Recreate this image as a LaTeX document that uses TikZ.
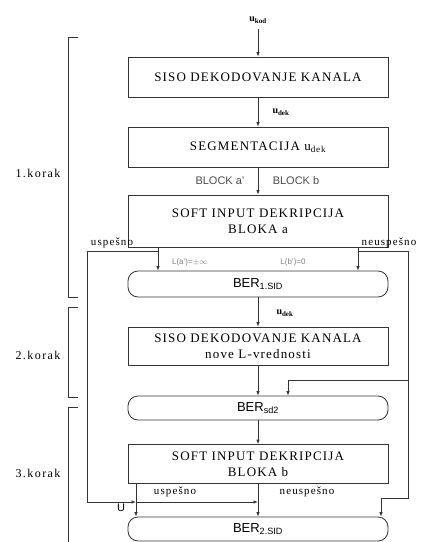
\documentclass[tikz,border=0pt]{standalone}
\usepackage{fontspec}
\setmainfont{Liberation Serif}
\setsansfont{Liberation Sans}
\usetikzlibrary{arrows.meta}
\begin{document}
\begin{tikzpicture}[x=1pt, y=-1pt, >={Latex[length=4.5pt,width=3.5pt]},
  every node/.style={inner sep=0pt},
  procbox/.style={draw=black!80, line width=0.8pt, minimum width=260pt, align=center,
    font=\fontsize{13}{16}\selectfont\addfontfeature{LetterSpace=9}},
  berbox/.style={draw=black!80, line width=0.8pt, rounded corners=10pt, minimum width=260pt,
    font=\sffamily\fontsize{13}{15}\selectfont},
  lbl/.style={font=\fontsize{11}{13}\selectfont\addfontfeature{LetterSpace=10}},
  korak/.style={font=\fontsize{12}{14}\selectfont\addfontfeature{LetterSpace=12}},
  sig/.style={font=\bfseries\fontsize{10}{12}\selectfont},
  blk/.style={font=\sffamily\fontsize{11}{13}\selectfont, text=black!70},
  lval/.style={font=\sffamily\fontsize{8}{10}\selectfont, text=black!50},
  line/.style={draw=black!80, line width=0.8pt}]
\useasboundingbox (0,0) rectangle (427,542);
% step 1
\node[sig] (ukod) at (258,20) {u\textsubscript{kod}};
\node[procbox, minimum height=40pt] (dek1) at (258,77) {SISO DEKODOVANJE KANALA};
\node[sig] (udek1) at (281,112) {u\textsubscript{dek}};
\node[procbox, minimum height=40pt] (seg) at (258,147) {SEGMENTACIJA u\textsubscript{dek}};
\node[blk] (blka) at (220,181) {BLOCK a'};
\node[blk] (blkb) at (296,181) {BLOCK b};
\node[procbox, minimum height=52pt] (sid1) at (258,221) {SOFT INPUT DEKRIPCIJA\\BLOKA a};
\node[lbl] (usp1) at (112,243) {uspešno};
\node[lbl] (neu1) at (389,243) {neuspešno};
\node[lval] (la) at (190,262) {L(a')=$\pm\infty$};
\node[lval] (lb) at (293,262) {L(b')=0};
\node[berbox, minimum height=26pt] (ber1) at (258,284) {BER\textsubscript{1.SID}};
% step 2
\node[sig] (udek2) at (285,313) {u\textsubscript{dek}};
\node[procbox, minimum height=38pt] (dek2) at (258,346) {SISO DEKODOVANJE KANALA\\nove L-vrednosti};
\node[berbox, minimum height=24pt] (ber2) at (258,408) {BER\textsubscript{sd2}};
% step 3
\node[procbox, minimum height=39pt] (sid2) at (258,464) {SOFT INPUT DEKRIPCIJA\\BLOKA b};
\node[lbl] (usp2) at (175,492) {uspešno};
\node[lbl] (neu2) at (307,492) {neuspešno};
\node[blk, text=black] (uu) at (121,508) {U};
\node[berbox, minimum height=24pt] (ber3) at (258,529) {BER\textsubscript{2.SID}};
% brackets
\node[korak] (k1) at (38,173) {1.korak};
\node[korak] (k2) at (38,355) {2.korak};
\node[korak] (k3) at (38,473) {3.korak};
\draw[line] (78,37) -- (68,37) -- (68,297) -- (78,297);
\draw[line] (78,307) -- (68,307) -- (68,397) -- (78,397);
\draw[line] (78,407) -- (68,407) -- (68,542);
% branch points
\coordinate (sA) at (158,251);
\coordinate (lA) at (87,251);
\coordinate (lB) at (87,502);
\coordinate (u1) at (136,502);
\coordinate (u2) at (258,502);
\coordinate (nA) at (358,251);
\coordinate (rA) at (408,251);
\coordinate (rB) at (408,380);
\coordinate (rC) at (288,380);
\coordinate (rD) at (408,498);
\coordinate (rE) at (381,498);
% main flow
\draw[line,->,shorten <=6pt] (ukod) -- (dek1);
\draw[line,->] (dek1) -- (seg);
\draw[line,->] (seg) -- (sid1);
\draw[line,->] (sid1.south -| sA) -- (ber1.north -| sA);
\draw[line,->] (sid1.south -| nA) -- (ber1.north -| nA);
\draw[line,->] (ber1) -- (dek2);
\draw[line,->] (dek2) -- (ber2);
\draw[line,->] (ber2) -- (sid2);
\draw[line,->] (sid2.south -| u1) -- (ber3.north -| u1);
\draw[line,->] (sid2) -- (ber3);
% uspesno / neuspesno loops
\draw[line] (sA) -- (lA) -- (lB);
\draw[line,->] (lB) -- (u1);
\draw[line,->] (u1) -- (u2);
\draw[line] (nA) -- (rA) -- (rD) -- (rE);
\draw[line,->] (rE) -- (ber3.north -| rE);
\draw[line,->] (rB) -- (rC) -- (ber2.north -| rC);
\end{tikzpicture}
\end{document}
